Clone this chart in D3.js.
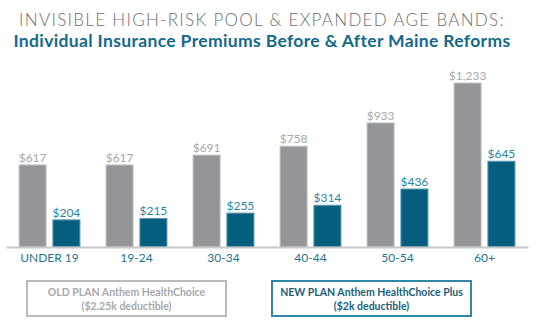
<!DOCTYPE html>
<html>
<head>
<meta charset="utf-8">
<script src="https://cdn.jsdelivr.net/npm/d3@7"></script>
<style>
  body { margin: 0; background: #fff; }
  svg { display: block; font-family: Lato, "Open Sans", sans-serif; }
</style>
</head>
<body>
<svg width="547" height="336"></svg>
<script>
const ageBands = ["UNDER 19", "19-24", "30-34", "40-44", "50-54", "60+"];
const oldPlan = [617, 617, 691, 758, 933, 1233];
const newPlan = [204, 215, 255, 314, 436, 645];
const seriesNames = ["old", "new"];

const svg = d3.select("svg");
const baseY = 247;

const fmt = d3.format("$,");

svg.append("text")
  .attr("x", 262).attr("y", 26)
  .attr("text-anchor", "middle")
  .style("font-size", "17px")
  .style("font-weight", 300)
  .style("letter-spacing", "1.3px")
  .attr("fill", "#6d6e71")
  .text("INVISIBLE HIGH-RISK POOL & EXPANDED AGE BANDS:");

svg.append("text")
  .attr("x", 262).attr("y", 47)
  .attr("text-anchor", "middle")
  .style("font-size", "17.5px")
  .style("font-weight", 700)
  .style("letter-spacing", "0.35px")
  .attr("fill", "#13698c")
  .text("Individual Insurance Premiums Before & After Maine Reforms");

const x = d3.scaleBand().domain(ageBands).range([6, 528])
  .paddingInner(0.3).paddingOuter(0.15);
const xs = d3.scaleBand().domain(seriesNames).range([0, x.bandwidth()]).paddingInner(0.2);
const y = d3.scaleLinear().domain([0, 1233]).range([baseY, 83]);

const rows = ageBands.map((a, i) => ({ band: a, old: oldPlan[i], new: newPlan[i] }));

const fill = { old: "#939598", new: "#055e7e" };
const stroke = { old: "#c4c5c7", new: "#5f9cb3" };
const labelCol = { old: "#a7a9ac", new: "#2b87a8" };

const g = svg.selectAll(".grp")
  .data(rows)
  .enter().append("g")
  .attr("transform", d => "translate(" + x(d.band) + ",0)");

g.selectAll("rect")
  .data(d => seriesNames.map(s => ({ s: s, v: d[s] })))
  .enter().append("rect")
  .attr("x", d => xs(d.s))
  .attr("y", d => y(d.v))
  .attr("width", xs.bandwidth())
  .attr("height", d => baseY - y(d.v))
  .attr("fill", d => fill[d.s])
  .attr("stroke", d => stroke[d.s])
  .attr("stroke-width", 1);

g.selectAll(".val")
  .data(d => seriesNames.map(s => ({ s: s, v: d[s] })))
  .enter().append("text")
  .attr("class", "val")
  .attr("x", d => xs(d.s) + xs.bandwidth() / 2)
  .attr("y", d => y(d.v) - 3)
  .attr("text-anchor", "middle")
  .style("font-size", "12px")
  .attr("fill", d => labelCol[d.s])
  .text(d => fmt(d.v));

const axis = svg.append("g")
  .attr("transform", "translate(0," + baseY + ")")
  .call(d3.axisBottom(x).tickSize(0).tickPadding(6));
axis.select(".domain").attr("stroke", "#c8c8ca").attr("stroke-width", 2);
axis.selectAll("text")
  .style("font-family", "Lato, sans-serif")
  .style("font-size", "12px")
  .attr("fill", "#1f7396");

const legend = [
  { x: 27, w: 199, border: "#b9babc", color: "#a7a9ac",
    lines: ["OLD PLAN Anthem HealthChoice", "($2.25k deductible)"] },
  { x: 272, w: 199, border: "#2e88a6", color: "#1a5f7d",
    lines: ["NEW PLAN Anthem HealthChoice Plus", "($2k deductible)"] }
];

const lg = svg.selectAll(".leg")
  .data(legend)
  .enter().append("g")
  .attr("transform", d => "translate(" + d.x + ",281)");

lg.append("rect")
  .attr("width", d => d.w).attr("height", 35)
  .attr("fill", "none")
  .attr("stroke", d => d.border)
  .attr("stroke-width", 2);

lg.each(function(d) {
  d3.select(this).selectAll("text")
    .data(d.lines)
    .enter().append("text")
    .attr("x", d.w / 2)
    .attr("y", (t, i) => 14.5 + i * 14)
    .attr("text-anchor", "middle")
    .style("font-size", "10.5px")
    .style("font-weight", 700)
    .attr("fill", d.color)
    .text(t => t);
});
</script>
</body>
</html>
